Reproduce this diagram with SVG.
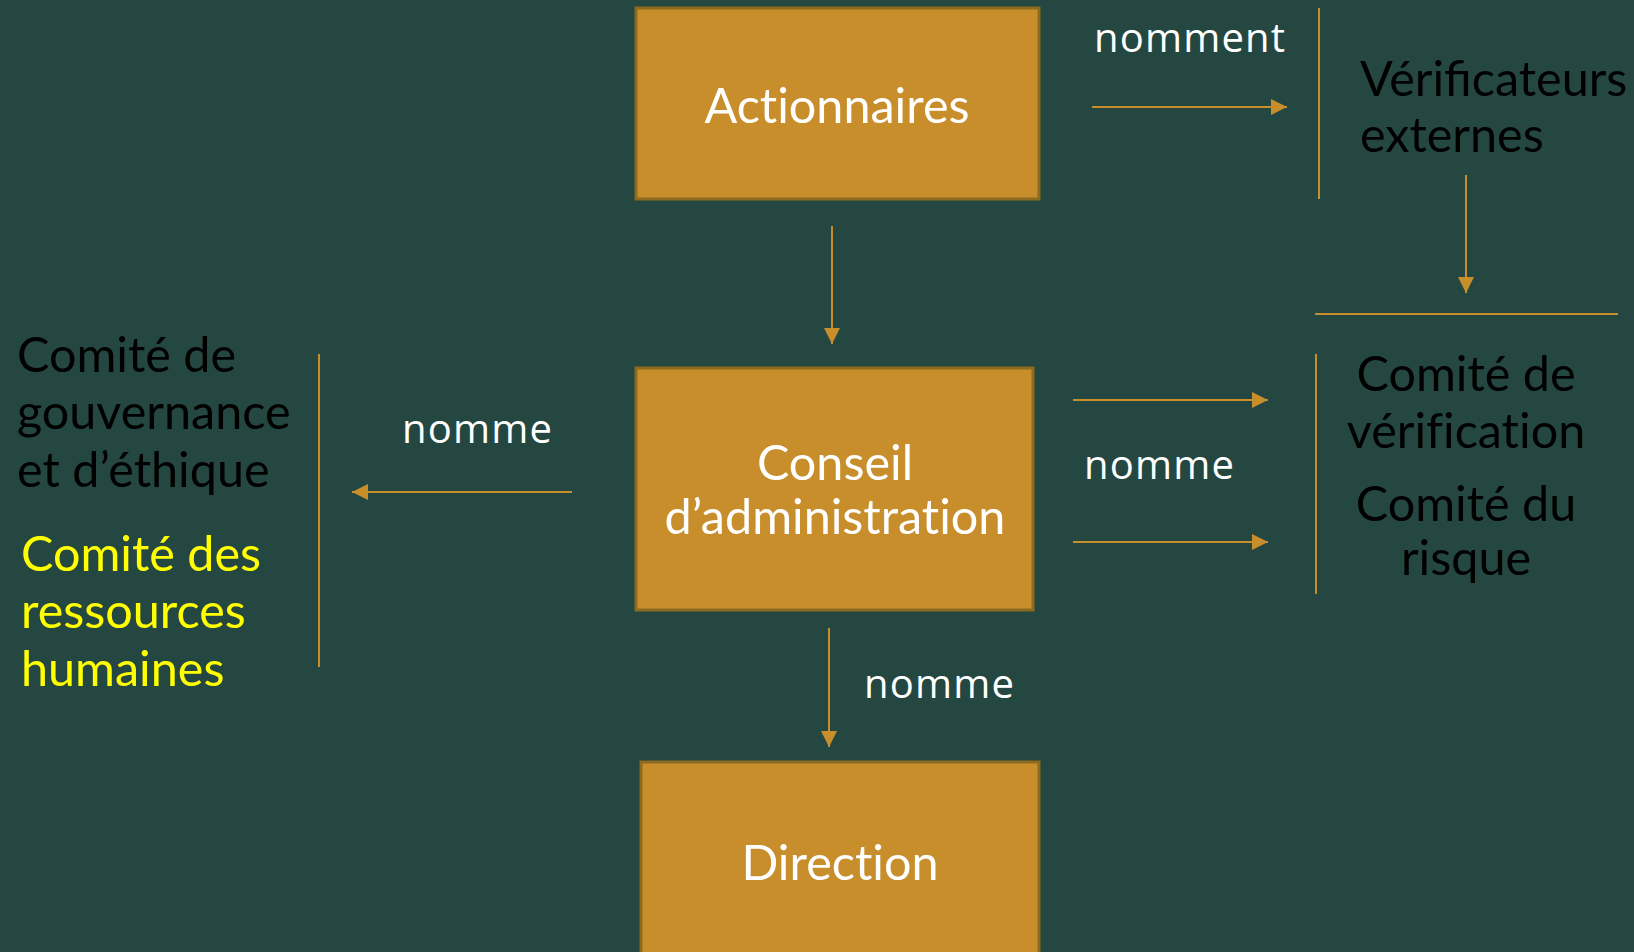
<svg xmlns="http://www.w3.org/2000/svg" width="1634" height="952" viewBox="0 0 1634 952">
<style>
.bg{fill:#244741}
.box{fill:#C88E2B;stroke:#8C6A1F;stroke-width:3}
.bt{font-family:Lato,"Liberation Sans",sans-serif;font-size:48.5px;fill:#FFFFFF;text-anchor:middle;font-variant-ligatures:none}
.ct{font-family:Lato,"Liberation Sans",sans-serif;font-size:48.5px;fill:#000000;font-variant-ligatures:none}
.yt{font-family:Lato,"Liberation Sans",sans-serif;font-size:48.5px;fill:#FFFF00;font-variant-ligatures:none}
.lig{font-variant-ligatures:normal}
.lbl{font-family:"Open Sans","DejaVu Sans",sans-serif;font-size:40px;fill:#FFFFFF;letter-spacing:1.2px}
.ln{stroke:#C88E2B;stroke-width:2;fill:none}
.ar{stroke:#C88E2B;stroke-width:2;fill:none;marker-end:url(#ah)}
</style>
<defs>
<marker id="ah" viewBox="0 0 10 10" refX="10" refY="5" markerWidth="8" markerHeight="8" markerUnits="strokeWidth" orient="auto">
<path d="M0,0 L10,5 L0,10 Z" fill="#C88E2B"/>
</marker>
</defs>
<rect class="bg" x="0" y="0" width="1634" height="952"/>
<g id="connectors">
<line class="ar" x1="1092" y1="107" x2="1287" y2="107"/>
<line class="ln" x1="1319" y1="8" x2="1319" y2="199"/>
<line class="ar" x1="1466" y1="175" x2="1466" y2="293"/>
<line class="ln" x1="1315" y1="314" x2="1618" y2="314"/>
<line class="ar" x1="832" y1="226" x2="832" y2="344"/>
<line class="ar" x1="1073" y1="400" x2="1268" y2="400"/>
<line class="ar" x1="1073" y1="542" x2="1268" y2="542"/>
<line class="ln" x1="1316" y1="354" x2="1316" y2="594"/>
<line class="ar" x1="572" y1="492" x2="352" y2="492"/>
<line class="ln" x1="319" y1="354" x2="319" y2="667"/>
<line class="ar" x1="829" y1="628" x2="829" y2="747"/>
<text class="lbl" x="1094" y="52">nomment</text>
<text class="lbl" x="1084" y="479">nomme</text>
<text class="lbl" x="402" y="443">nomme</text>
<text class="lbl" x="864" y="698">nomme</text>
</g>
<g id="actionnaires">
<rect class="box" x="636" y="8" width="403" height="191"/>
<text class="bt" x="837" y="123">Actionnaires</text>
</g>
<g id="conseil">
<rect class="box" x="636" y="368" width="397" height="242"/>
<text class="bt" x="835" y="480">Conseil</text>
<text class="bt" x="835" y="534">d’administration</text>
</g>
<g id="direction">
<rect class="box" x="641" y="762" width="398" height="200"/>
<text class="bt" x="840" y="880">Direction</text>
</g>
<g id="verificateurs">
<text class="ct lig" x="1360" y="96">Vérificateurs</text>
<text class="ct" x="1360" y="152">externes</text>
</g>
<g id="comites-droite">
<text class="ct" x="1466" y="391" text-anchor="middle">Comité de</text>
<text class="ct" x="1466" y="448" text-anchor="middle">vérification</text>
<text class="ct" x="1466" y="521" text-anchor="middle">Comité du</text>
<text class="ct" x="1466" y="575" text-anchor="middle">risque</text>
</g>
<g id="comite-gouvernance">
<text class="ct" x="17" y="372">Comité de</text>
<text class="ct" x="17" y="429">gouvernance</text>
<text class="ct" x="17" y="487">et d’éthique</text>
</g>
<g id="comite-rh">
<text class="yt" x="21" y="571">Comité des</text>
<text class="yt" x="21" y="628">ressources</text>
<text class="yt" x="21" y="686">humaines</text>
</g>
</svg>
